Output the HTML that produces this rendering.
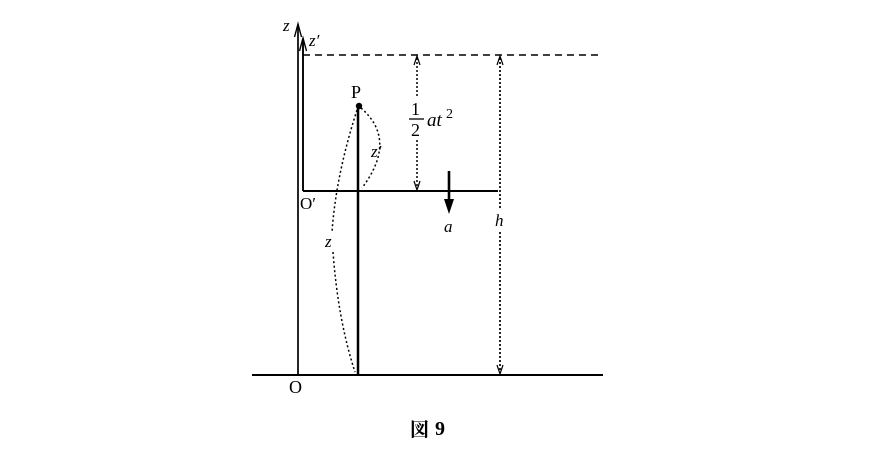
<!DOCTYPE html>
<html><head><meta charset="utf-8"><style>
html,body{margin:0;padding:0;background:#fff;}
svg{display:block}
text{font-family:"Liberation Serif","Noto Serif CJK SC",serif;fill:#000}
.i{font-style:italic}
</style></head><body>
<svg width="870" height="453" viewBox="0 0 870 453" xmlns="http://www.w3.org/2000/svg">
<g stroke="#000" fill="none">
<line x1="298" y1="26" x2="298" y2="376" stroke-width="1.7"/>
<path d="M294.5 37 L298 24 L301.5 37" stroke-width="1.4"/>
<line x1="303" y1="40" x2="303" y2="191" stroke-width="1.9"/>
<path d="M299.5 51 L303 38 L306.5 51" stroke-width="1.4"/>
<line x1="303" y1="55" x2="598" y2="55" stroke-width="1.4" stroke-dasharray="7,5"/>
<line x1="303" y1="191" x2="498" y2="191" stroke-width="1.9"/>
<line x1="252" y1="375" x2="603" y2="375" stroke-width="1.9"/>
<line x1="358" y1="106" x2="358" y2="375" stroke-width="2.5"/>
<line x1="417" y1="58" x2="417" y2="96" stroke-width="1.5" stroke-dasharray="2,2"/>
<line x1="417" y1="140" x2="417" y2="189" stroke-width="1.5" stroke-dasharray="2,2"/>
<path d="M414 65 L417 56 L420 65 M414 181 L417 190 L420 181" stroke-width="1.2"/>
<line x1="500" y1="58" x2="500" y2="209" stroke-width="1.7" stroke-dasharray="2,2"/>
<line x1="500" y1="232" x2="500" y2="373" stroke-width="1.7" stroke-dasharray="2,2"/>
<path d="M497 65 L500 56 L503 65 M497 365 L500 374 L503 365" stroke-width="1.2"/>
<line x1="449" y1="171" x2="449" y2="205" stroke-width="2.6"/>
<path d="M444 199 L449 214 L454 199 Z" fill="#000" stroke="none"/>
<path d="M361 108 Q398 140 362 188" stroke-width="1.5" stroke-dasharray="2,2.5"/>
<path d="M357 110 Q336 175 332 232" stroke-width="1.5" stroke-dasharray="2,2.5"/>
<path d="M333 252 Q338 320 355 372" stroke-width="1.5" stroke-dasharray="2,2.5"/>
</g>
<circle cx="359" cy="106" r="3.2" fill="#000"/>
<text x="283" y="31" class="i" font-size="17">z</text>
<text x="309" y="46" class="i" font-size="17">z′</text>
<text x="351" y="98" font-size="18">P</text>
<text x="371" y="157" class="i" font-size="17">z′</text>
<text x="411" y="115" font-size="18">1</text>
<line x1="409" y1="119" x2="424" y2="119" stroke="#000" stroke-width="1.3"/>
<text x="411" y="136" font-size="18">2</text>
<text x="427" y="126" class="i" font-size="19">at</text>
<text x="446" y="118" font-size="14">2</text>
<text x="300" y="209" font-size="17">O′</text>
<text x="444" y="232" class="i" font-size="17">a</text>
<text x="495" y="226" class="i" font-size="17">h</text>
<text x="325" y="247" class="i" font-size="17">z</text>
<text x="289" y="393" font-size="18">O</text>
<text x="410" y="436" font-size="19" font-weight="bold" font-family="'Noto Sans CJK JP',sans-serif">図</text>
<text x="435" y="435" font-size="20" font-weight="bold">9</text>
</svg>
</body></html>
